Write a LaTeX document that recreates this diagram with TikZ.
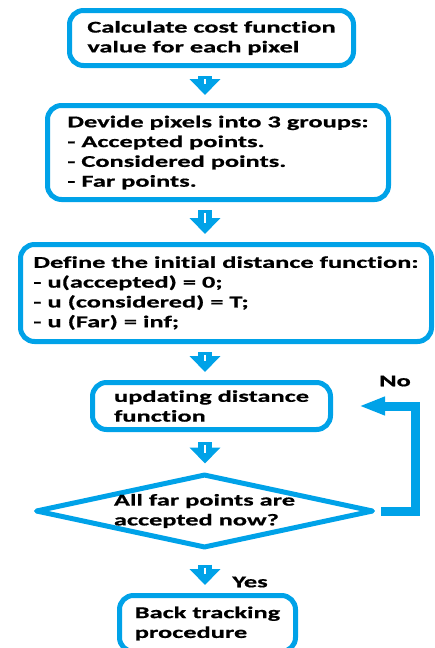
\documentclass[tikz,border=0pt]{standalone}
\usepackage{fontspec}
\setmainfont{Carlito}[FakeStretch=1.6, Ligatures=NoCommon, BoldFeatures={FakeBold=0.7}]
\usetikzlibrary{calc, positioning, arrows.meta, shapes.geometric}
\definecolor{flowblue}{RGB}{0,162,232}
\newcommand{\boxfont}{\fontsize{16.5}{19.8}\selectfont\bfseries}

\tikzset{
  stepbox/.style={draw=flowblue, line width=5pt, rounded corners=14pt,
    align=left, font=\boxfont, inner sep=0pt},
  decision/.style={diamond, draw=flowblue, line width=5pt, line join=round,
    aspect=4.57, align=left, font=\boxfont, inner sep=-3pt},
  flow/.style={draw=flowblue, line width=14pt,
    -{Triangle[length=16pt,width=30pt]}, shorten <=#1, shorten >=8pt,
    postaction={draw=white, line width=1.2pt, -, shorten <=#1+3pt, shorten >=19pt}},
  flow/.default=8pt,
  loopline/.style={draw=flowblue, line width=9pt,
    -{Triangle[length=26pt,width=17pt]}, shorten <=5pt, shorten >=26pt},
  tag/.style={font=\boxfont, inner sep=0pt}
}

\begin{document}
\begin{tikzpicture}[x=1pt, y=-1pt]
      \useasboundingbox (0,0) rectangle (434,648);
      % nodes %
      \node[stepbox, minimum width=284pt, minimum height=55pt] (calc) at (211.5,38)
        {Calculate cost function\\value for each pixel};
      \node[stepbox, minimum width=341pt, minimum height=94pt] (divide) at (218,152.5)
        {Devide pixels into 3 groups:\\- Accepted points.\\- Considered points.\\- Far points.};
      \node[stepbox, minimum width=411pt, minimum height=97pt] (init) at (226,293)
        {Define the initial distance function:\\- u(accepted) = 0;\\- u (considered) = T;\\- u (Far) = inf;};
      \node[stepbox, minimum width=238pt, minimum height=47pt] (update) at (211.5,406)
        {updating distance\\function};
      \node[decision, minimum width=338pt, minimum height=74pt] (check) at (204.5,511)
        {All far points are\\accepted now?};
      \node[stepbox, minimum width=176pt, minimum height=56pt] (back) at (207.5,623.5)
        {Back tracking\\procedure};
      \coordinate (ax) at (205,0);

      % labels %
      \node[tag] (no) at (395,381) {No};
      \node[tag] (yes) at (250,582) {Yes};

      % edges %
      \draw[flow] (calc.south -| ax) -- (divide.north -| ax);
      \draw[flow] (divide.south -| ax) -- (init.north -| ax);
      \draw[flow] (init.south -| ax) -- (update.north -| ax);
      \draw[flow=10pt] (update.south -| ax) -- (check.north -| ax);
      \draw[flow=14pt] (check.south -| ax) -- (back.north -| ax);
      \draw[loopline] (check.east) -- ++(39.5,0) |- (update.east);

    \end{tikzpicture}
\end{document}
